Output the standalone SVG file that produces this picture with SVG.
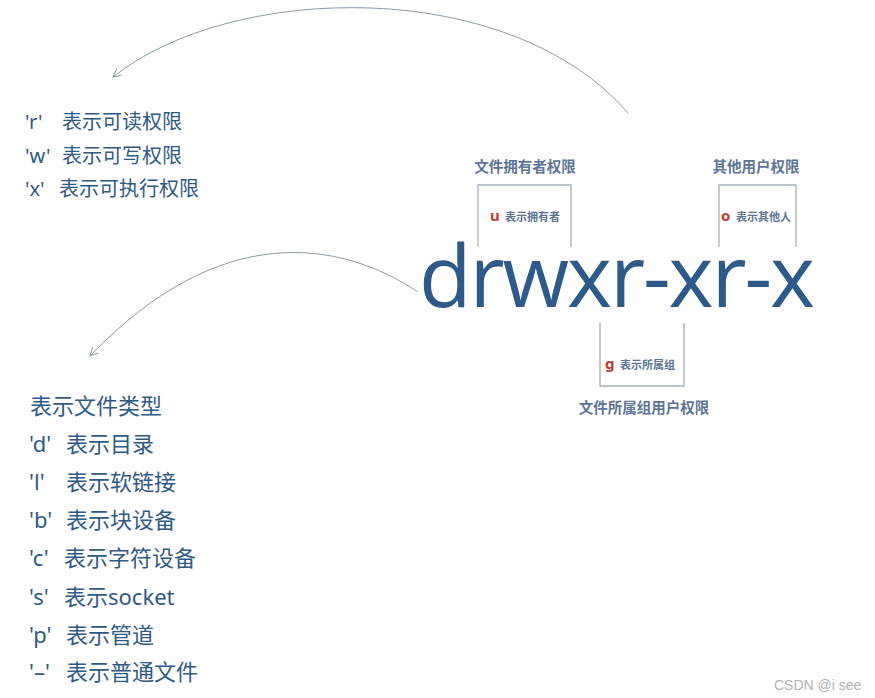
<svg xmlns="http://www.w3.org/2000/svg" width="875" height="698" viewBox="0 0 875 698">
<style>
  .lst { font-family: "Noto Sans", "Noto Sans CJK SC", sans-serif; fill: #2f5a84; }
  .lbl { font-family: "Noto Sans CJK SC", sans-serif; fill: #5d7595; font-size: 14.5px; font-weight: bold; text-anchor: middle; }
  .sm { font-family: "Noto Sans CJK SC", sans-serif; fill: #5d7595; font-size: 11px; font-weight: bold; }
  .red { font-family: "Noto Sans", sans-serif; fill: #c43a2e; font-size: 15px; font-weight: bold; }
  .brk { fill: none; stroke: #a7b0b9; stroke-width: 1.3; }
  .arc { fill: none; stroke: #8c9aa7; stroke-width: 1; marker-end: url(#ah); }
</style>
<defs>
  <marker id="ah" markerWidth="12" markerHeight="12" refX="9" refY="5" orient="auto" markerUnits="userSpaceOnUse">
    <path d="M1,1 L9,5 L1,9" fill="none" stroke="#8c9aa7" stroke-width="1"/>
  </marker>
</defs>
<rect width="875" height="698" fill="#ffffff"/>

<g id="connectors">
  <path class="arc" d="M628,113 C510,-24 232,-18 113,77"/>
  <path class="arc" d="M418,292 C340,240 220,220 90,356"/>
</g>

<g id="perm-list">
  <text class="lst" font-size="20" y="129"><tspan x="25">'r'</tspan><tspan x="62">表示可读权限</tspan></text>
  <text class="lst" font-size="20" y="163"><tspan x="25">'w'</tspan><tspan x="62">表示可写权限</tspan></text>
  <text class="lst" font-size="20" y="196"><tspan x="25">'x'</tspan><tspan x="59">表示可执行权限</tspan></text>
</g>

<g id="type-list">
  <text class="lst" font-size="22" x="30" y="414">表示文件类型</text>
  <text class="lst" font-size="22" y="452"><tspan x="29">'d'</tspan><tspan x="66">表示目录</tspan></text>
  <text class="lst" font-size="22" y="490"><tspan x="29">'l'</tspan><tspan x="66">表示软链接</tspan></text>
  <text class="lst" font-size="22" y="528"><tspan x="29">'b'</tspan><tspan x="66">表示块设备</tspan></text>
  <text class="lst" font-size="22" y="566"><tspan x="29">'c'</tspan><tspan x="64">表示字符设备</tspan></text>
  <text class="lst" font-size="22" y="605"><tspan x="29">'s'</tspan><tspan x="64">表示socket</tspan></text>
  <text class="lst" font-size="22" y="643"><tspan x="29">'p'</tspan><tspan x="66">表示管道</tspan></text>
  <text class="lst" font-size="22" y="680"><tspan x="29">'–'</tspan><tspan x="66">表示普通文件</tspan></text>
</g>

<g id="perm-string">
  <text x="419" y="307" font-family="'Open Sans', 'Noto Sans', sans-serif" font-size="86" fill="#2d5a88" textLength="396" lengthAdjust="spacing">drwxr-xr-x</text>
</g>

<g id="owner">
  <text class="lbl" x="525" y="172">文件拥有者权限</text>
  <path class="brk" d="M478,247 V185 H571 V247"/>
  <text class="red" x="490" y="221">u</text>
  <text class="sm" x="505" y="221">表示拥有者</text>
</g>

<g id="others">
  <text class="lbl" x="756" y="172">其他用户权限</text>
  <path class="brk" d="M719,247 V185 H796 V247"/>
  <text class="red" x="721" y="221">o</text>
  <text class="sm" x="736" y="221">表示其他人</text>
</g>

<g id="group">
  <path class="brk" d="M600,323 V386 H684 V323"/>
  <text class="red" x="605" y="369">g</text>
  <text class="sm" x="620" y="369">表示所属组</text>
  <text class="lbl" x="644" y="413">文件所属组用户权限</text>
</g>

<text x="774" y="690" font-family="'Liberation Sans', Arial, sans-serif" font-size="14" fill="#b3b3b3">CSDN @i see</text>
</svg>
